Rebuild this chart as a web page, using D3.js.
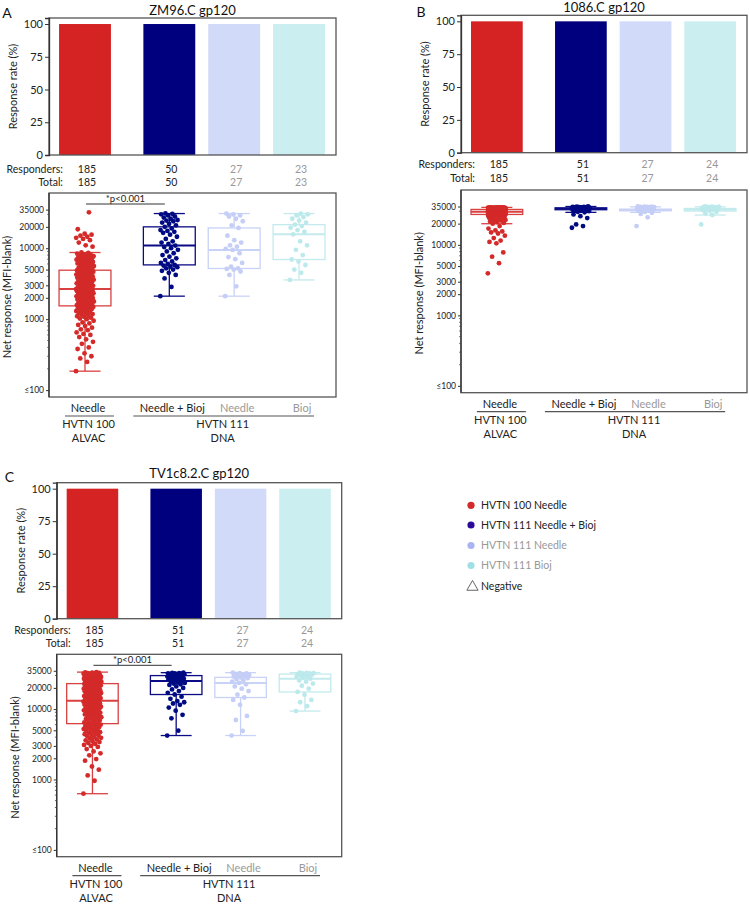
<!DOCTYPE html>
<html><head><meta charset="utf-8">
<script src="https://cdn.jsdelivr.net/npm/d3@7"></script>
<style>body{margin:0;background:#fff} svg{font-family:Lato,"Open Sans",sans-serif}</style>
</head><body><svg id="c" width="750" height="905"></svg>
<script>
// ---------------- DATA ----------------
const groupNames = ["HVTN 100 Needle","HVTN 111 Needle + Bioj","HVTN 111 Needle","HVTN 111 Bioj"];
const xLabels = ["Needle","Needle + Bioj","Needle","Bioj"];
const trialLabels = [["HVTN 100","ALVAC"],["HVTN 111","DNA"]];
const panelLetters = ["A","B","C"];
const panelTitles = ["ZM96.C gp120","1086.C gp120","TV1c8.2.C gp120"];
const responseRates = [[100,100,100,100],[100,100,100,100],[100,100,100,100]];
const responders = [[185,50,27,23],[185,51,27,24],[185,51,27,24]];
const totals = [[185,50,27,23],[185,51,27,24],[185,51,27,24]];
const rateTicks = [0,25,50,75,100];
const netTickValues = [100,1000,2000,3000,5000,10000,20000,35000];
const netTickLabels = ["≤100","1000","2000","3000","5000","10000","20000","35000"];
const netMinorTicks = [200,300,400,500,600,700,800,900,4000,6000,7000,8000,9000,30000];
const boxLo  = [[185,2110,2110,3570],[19950,28900,28900,26500],[628,4210,4210,9380]];
const boxQ1  = [[1540,5820,5180,6930],[27000,31500,30400,30200],[6210,16100,14600,17500]];
const boxMed = [[2670,10900,9460,15700],[29400,32500,31300,31500],[13100,25000,23500,27000]];
const boxQ3  = [[4900,20000,19300,21500],[31800,33500,32100,32800],[23000,29900,28200,31400]];
const boxHi  = [[8700,30800,30800,30800],[34000,35000,34600,34600],[33500,32900,32900,32900]];
const sigLabels = ["*p<0.001", null, "*p<0.001"];

const zm96_needle100 = [185,250,280,300,330,380,400,450,480,520,560,600,620,650,700,720,760,800,830,870,900,950,
1000,1020,1050,1080,1100,1120,1150,1180,1200,1220,1250,1280,1300,1320,1350,1380,1400,1420,1450,1470,1490,1510,1520,1540,
1560,1580,1600,1620,1650,1680,1700,1720,1750,1780,1800,1820,1850,1880,1900,1920,1950,1980,2000,2020,2050,2080,2100,2120,2150,2180,2200,2230,2260,2290,2320,2350,2380,2410,2440,2470,2500,2520,2540,2560,2580,2600,2620,2640,2660,2670,
2700,2750,2800,2850,2900,2950,3000,3050,3100,3150,3200,3250,3300,3350,3400,3450,3500,3550,3600,3650,3700,3750,3800,3850,3900,3950,4000,4050,4100,4150,4200,4250,4300,4350,4400,4450,4500,4550,4600,4650,4700,4750,4800,4850,4880,4900,
5000,5100,5200,5300,5400,5500,5600,5700,5800,5900,6000,6100,6200,6300,6400,6500,6600,6700,6800,6900,7000,7100,7200,7300,7400,7500,7600,7700,7800,7900,8000,8200,8400,8600,8700,
10500,11000,12000,13000,13500,14000,14500,15000,15500,16000,18500,32000];
const zm96_needleBioj111 = [2110,2850,3750,4200,4500,4800,5000,5200,5400,5500,5700,5800,6000,6200,6500,6800,7200,7600,8000,8500,9000,9500,10000,10400,10900,
11500,12000,12500,13500,14500,15500,16500,17000,17500,18000,19000,20000,21000,22000,23000,24000,24500,25000,26000,27000,28000,29000,30000,30500,31000];
const zm96_needle111 = [2110,2900,4200,4700,5000,5100,5200,5500,6200,7000,7500,8500,9460,9800,10500,11000,12000,13000,15000,19300,21000,24000,26000,28000,29000,30000,30800];
const zm96_bioj111 = [3570,4500,5000,5800,6500,6930,8000,9500,11000,12500,15700,17000,18000,19500,20500,21500,23000,24500,26000,27500,29000,30000,30800];

const b1086_needle100 = [3950,5500,6800,7800,10500,11000,11500,12500,13500,14500,15000,15500,16000,17000,18500,
19950,20500,21000,21500,22000,22300,22600,23000,23300,23600,24000,24200,24400,24600,24800,25000,25200,25400,25600,25800,26000,26100,26200,26300,26400,26500,26600,26700,26800,26900,27000,
27050,27100,27150,27200,27250,27300,27350,27400,27450,27500,27550,27600,27650,27700,27750,27800,27850,27900,27950,28000,28050,28100,28150,28200,28250,28300,28350,28400,28450,28500,28550,28600,28650,28700,28750,28800,28850,28900,28950,29000,29050,29100,29150,29250,29300,29400,
29450,29500,29550,29600,29650,29700,29750,29800,29850,29900,29950,30000,30050,30100,30150,30200,30250,30300,30350,30400,30450,30500,30550,30600,30650,30700,30750,30800,30850,30900,30950,31000,31050,31100,31150,31200,31250,31300,31350,31400,31450,31500,31600,31650,31700,31800,
31850,31900,31950,32000,32050,32100,32150,32200,32250,32300,32350,32400,32450,32500,32550,32600,32650,32700,32750,32800,32850,32900,32950,33000,33050,33100,33150,33200,33250,33300,33350,33400,33450,33500,33550,33600,33650,33700,33750,33800,33850,33900,33950,34000,34000,34000,34000];
const b1086_needleBioj111 = [17500,18500,19500,24000,25500,27000,28900,29500,30000,30500,30800,31100,31400,
31500,31600,31700,31800,31900,32000,32100,32200,32300,32350,32400,32450,32500,32600,32700,32800,32900,33000,33100,33150,33200,33300,33350,33400,33500,
33600,33700,33800,33900,34000,34100,34200,34300,34400,34500,34600,34800,35000];
const b1086_needle111 = [18500,24600,27500,28500,29500,30500,31000,31300,31600,31900,32100,32300,32500,32700,32900,33100,33300,33500,33700,33900,34100,34300,34500,34600,34800,34900,35000];
const b1086_bioj111 = [19500,26500,28000,29500,30500,31000,31500,31800,32100,32400,32600,32800,33000,33200,33400,33600,33800,34000,34200,34400,34600,34800,34900,35000];

const tv1_needle100 = [628,960,1140,1380,1530,1850,1950,2200,2350,2500,2700,2900,3000,3100,3200,3300,3400,3500,3600,3700,3800,3900,4000,4100,4200,4300,4400,4500,4600,4700,4800,4900,5000,5100,5200,5300,5400,5500,5600,5700,5800,5900,6000,6050,6100,6210,
6300,6450,6600,6750,6900,7050,7200,7350,7500,7650,7800,7950,8100,8250,8400,8550,8700,8850,9000,9150,9300,9450,9600,9750,9900,10050,10200,10350,10500,10650,10800,10950,11100,11250,11400,11550,11700,11850,12000,12150,12300,12450,12600,12750,12900,13100,
13300,13500,13700,13900,14100,14300,14500,14700,14900,15100,15300,15500,15700,15900,16100,16300,16500,16700,16900,17100,17300,17500,17700,17900,18100,18300,18500,18700,18900,19100,19300,19500,19700,19900,20200,20500,20800,21100,21400,21700,22000,22200,22400,22600,22800,23000,
23200,23400,23600,23800,24000,24200,24400,24600,24800,25000,25200,25400,25600,25800,26000,26200,26400,26600,26800,27000,27200,27400,27600,27800,28000,28200,28400,28600,28800,29000,29200,29400,29600,29800,30000,30300,30600,30900,31200,31500,31800,32100,32400,32700,33000,33200,33500];
const tv1_needleBioj111 = [4210,4940,7400,8300,9500,10500,11500,12000,12500,13000,14000,15000,16100,17000,18000,19000,20000,21000,22000,22500,23000,23500,24000,24500,25000,
25500,26000,26200,26500,27000,27500,28000,28200,28500,29000,29300,29600,29900,30200,30500,30800,31000,31200,31400,31600,31800,32000,32200,32400,32600,32900];
const tv1_needle111 = [4210,4900,7000,8000,11500,13500,14600,16000,18000,19500,21000,22500,23500,24500,25500,26500,27500,28200,29000,29500,30000,30500,31000,31500,32000,32500,32900];
const tv1_bioj111 = [9380,11000,12500,13500,16000,17500,19500,21500,23000,24500,25500,27000,28000,29000,29500,30000,30800,31400,31700,32000,32200,32500,32700,32900];

const panelPoints = [
  [zm96_needle100, zm96_needleBioj111, zm96_needle111, zm96_bioj111],
  [b1086_needle100, b1086_needleBioj111, b1086_needle111, b1086_bioj111],
  [tv1_needle100, tv1_needleBioj111, tv1_needle111, tv1_bioj111]
];

// ---------------- STYLE / LAYOUT ----------------
const barColors   = ["#d52323","#00007f","#d1daf9","#cbeef0"];
const pointColors = ["#d42a2a","#000a82","#c4cef6","#bce9eb"];
const boxColors   = ["#d94141","#0b0b85","#c9d2f7","#c3eaec"];
const textColors  = ["#222","#222","#999","#999"];
const legendColors = ["#d42a2a","#2a0a96","#a9b4f3","#9fdfe6"];
const frameColor = "#555";

const layouts = [
  {left:49, width:287, barTop:18, barBottom:155, respY:169, totY:182, boxTop:193, boxBottom:397, letterX:7, letterY:13, titleY:10},
  {left:461, width:286, barTop:15.3, barBottom:152.7, respY:164.7, totY:178.7, boxTop:190, boxBottom:392.7, letterX:421, letterY:12, titleY:7.5},
  {left:56.7, width:285, barTop:482.7, barBottom:618.7, respY:630.5, totY:643, boxTop:654.3, boxBottom:856.7, letterX:9.5, letterY:477, titleY:473.3}
];
const slot = i => i === 0 ? 0 : i + 0.3;
const jitter = i => ((i * 0.6180339887) % 1) - 0.5;

const svg = d3.select("#c");

layouts.forEach((L, p) => {
  const g = svg.append("g");
  const x = d3.scaleLinear().domain([-0.555, 3.87]).range([L.left, L.left + L.width]);
  const bw = x(0.8) - x(0);
  const yRate = d3.scaleLinear().domain([0, 104.6]).range([L.barBottom, L.barTop]);
  const yNet = d3.scaleLog().domain([80, 60000]).range([L.boxBottom, L.boxTop]);

  g.append("text").attr("x", L.letterX).attr("y", L.letterY).attr("dy","0.35em")
    .attr("text-anchor","middle").attr("font-size",14).attr("fill","#111").text(panelLetters[p]);
  g.append("text").attr("x", L.left + L.width/2).attr("y", L.titleY).attr("dy","0.35em")
    .attr("text-anchor","middle").attr("font-size",13).attr("fill","#111").text(panelTitles[p]);

  // bar chart
  g.append("g").selectAll("rect").data(responseRates[p]).join("rect")
    .attr("x", (d,i) => x(slot(i)) - bw/2).attr("width", bw)
    .attr("y", d => yRate(d)).attr("height", d => L.barBottom - yRate(d))
    .attr("fill", (d,i) => barColors[i]);
  g.append("rect").attr("x", L.left).attr("y", L.barTop).attr("width", L.width).attr("height", L.barBottom - L.barTop)
    .attr("fill","none").attr("stroke", frameColor).attr("stroke-width",1.3);
  const ax1 = g.append("g").attr("transform",`translate(${L.left},0)`)
    .call(d3.axisLeft(yRate).tickValues(rateTicks).tickSize(4).tickPadding(2));
  ax1.select(".domain").attr("stroke","#333").attr("stroke-width",1.3);
  ax1.selectAll(".tick line").attr("stroke","#333");
  ax1.selectAll(".tick text").attr("font-size",11).attr("fill","#222").attr("font-family","Lato");
  g.append("text").attr("transform",`translate(${L.left-36},${(L.barTop+L.barBottom)/2}) rotate(-90)`)
    .attr("text-anchor","middle").attr("dy","0.35em").attr("font-size",11).attr("fill","#222").text("Response rate (%)");

  [["Responders:", L.respY, responders[p]], ["Total:", L.totY, totals[p]]].forEach(([lab, yy, arr]) => {
    g.append("text").attr("x", L.left + 14).attr("y", yy).attr("dy","0.35em").attr("text-anchor","end")
      .attr("font-size",10.5).attr("fill","#222").text(lab);
    g.append("g").selectAll("text").data(arr).join("text")
      .attr("x", (d,i) => x(slot(i)) + 2).attr("y", yy).attr("dy","0.35em").attr("text-anchor","middle")
      .attr("font-size",10.5).attr("fill",(d,i) => textColors[i]).text(d => d);
  });

  // box plot frame & axis
  g.append("rect").attr("x", L.left).attr("y", L.boxTop).attr("width", L.width).attr("height", L.boxBottom - L.boxTop)
    .attr("fill","none").attr("stroke", frameColor).attr("stroke-width",1.3);
  const ax2 = g.append("g").attr("transform",`translate(${L.left},0)`)
    .call(d3.axisLeft(yNet).tickValues(netTickValues).tickFormat((d,i) => netTickLabels[i]).tickSize(3).tickPadding(2));
  ax2.select(".domain").attr("stroke","#333").attr("stroke-width",1.3).attr("d", `M0,${L.boxTop}V${L.boxBottom}`);
  ax2.selectAll(".tick line").attr("stroke","#333");
  ax2.selectAll(".tick text").attr("font-size",8.5).attr("fill","#222").attr("font-family","Lato");
  g.append("g").selectAll("line").data(netMinorTicks).join("line")
    .attr("x1", L.left - 1.8).attr("x2", L.left).attr("y1", d => yNet(d)).attr("y2", d => yNet(d))
    .attr("stroke","#444").attr("stroke-width",0.8);
  g.append("text").attr("transform",`translate(${L.left-42},${(L.boxTop+L.boxBottom)/2+2}) rotate(-90)`)
    .attr("text-anchor","middle").attr("dy","0.35em").attr("font-size",11).attr("fill","#222").text("Net response (MFI-blank)");

  groupNames.forEach((name, i) => {
    const cx = x(slot(i)), col = boxColors[i], cap = bw * 0.3;
    const bg = g.append("g").attr("stroke", col).attr("fill","none").attr("stroke-width",1.3);
    bg.append("line").attr("x1",cx).attr("x2",cx).attr("y1",yNet(boxLo[p][i])).attr("y2",yNet(boxQ1[p][i]));
    bg.append("line").attr("x1",cx).attr("x2",cx).attr("y1",yNet(boxQ3[p][i])).attr("y2",yNet(boxHi[p][i]));
    bg.append("line").attr("x1",cx-cap).attr("x2",cx+cap).attr("y1",yNet(boxLo[p][i])).attr("y2",yNet(boxLo[p][i]));
    bg.append("line").attr("x1",cx-cap).attr("x2",cx+cap).attr("y1",yNet(boxHi[p][i])).attr("y2",yNet(boxHi[p][i]));
    bg.append("rect").attr("x",cx-bw/2).attr("width",bw).attr("y",yNet(boxQ3[p][i])).attr("height",yNet(boxQ1[p][i]) - yNet(boxQ3[p][i]));
    bg.append("line").attr("x1",cx-bw/2).attr("x2",cx+bw/2).attr("y1",yNet(boxMed[p][i])).attr("y2",yNet(boxMed[p][i])).attr("stroke-width",2);
    g.append("g").selectAll("circle").data(panelPoints[p][i]).join("circle")
      .attr("cx", (d,k) => cx + jitter(k) * 18).attr("cy", d => yNet(d)).attr("r", 2.4)
      .attr("fill", pointColors[i]);
  });

  if (sigLabels[p]) {
    const x0 = x(slot(0)) + 1, x1 = x(slot(1)) - 4.5, yy = L.boxTop + 11;
    g.append("line").attr("x1",x0).attr("x2",x1).attr("y1",yy).attr("y2",yy).attr("stroke","#333").attr("stroke-width",1);
    g.append("text").attr("x",(x0+x1)/2).attr("y",yy-2.5).attr("text-anchor","middle").attr("font-size",9.5)
      .attr("fill","#222").text(sigLabels[p]);
  }

  xLabels.forEach((lab, i) => {
    g.append("text").attr("x", x(slot(i)) + 3).attr("y", L.boxBottom + 11).attr("dy","0.35em")
      .attr("text-anchor","middle").attr("font-size",11).attr("fill",textColors[i]).text(lab);
  });
  const u0 = [x(slot(0)) - 20, x(slot(0)) + 29], u1 = [x(slot(1)) - 36, x(slot(3)) + 15];
  [u0, u1].forEach((u, k) => {
    g.append("line").attr("x1",u[0]).attr("x2",u[1]).attr("y1",L.boxBottom+19).attr("y2",L.boxBottom+19)
      .attr("stroke","#555").attr("stroke-width",1.2);
    trialLabels[k].forEach((t, j) => {
      g.append("text").attr("x",(u[0]+u[1])/2 - 1).attr("y",L.boxBottom + 27.5 + j*13.5).attr("dy","0.35em")
        .attr("text-anchor","middle").attr("font-size",11).attr("fill","#222").text(t);
    });
  });
});

// legend
const legendRows = [505.3, 525, 545.5, 565.5];
const lg = svg.append("g");
groupNames.forEach((n, i) => {
  lg.append("circle").attr("cx",471).attr("cy",legendRows[i]).attr("r",3.6).attr("fill",legendColors[i]);
  lg.append("text").attr("x",481).attr("y",legendRows[i]).attr("dy","0.35em").attr("font-size",10.5)
    .attr("fill", textColors[i]).text(n);
});
lg.append("path").attr("d", d3.symbol(d3.symbolTriangle, 55)()).attr("transform","translate(472.5,587)")
  .attr("fill","none").attr("stroke","#555").attr("stroke-width",0.9);
lg.append("text").attr("x",481).attr("y",586).attr("dy","0.35em").attr("font-size",10.5).attr("fill","#222").text("Negative");
</script></body></html>
